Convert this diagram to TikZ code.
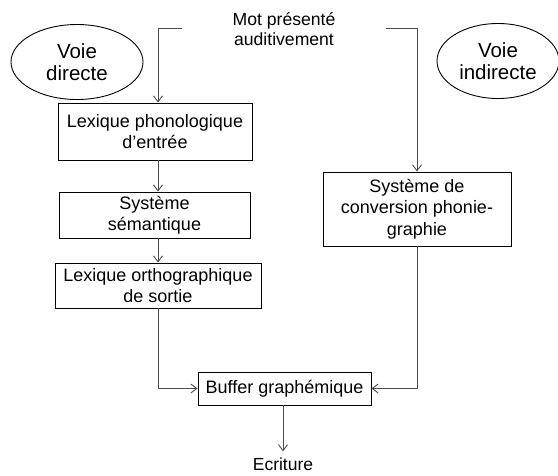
\documentclass[tikz,border=0pt]{standalone}
\usepackage{fontspec}
\setmainfont{Liberation Sans}
\usetikzlibrary{arrows.meta,shapes.geometric}
\begin{document}
\begin{tikzpicture}[x=1pt,y=-1pt,
  stage/.style={draw=black,line width=0.9pt,align=center,inner sep=0pt,
    font=\fontsize{18}{21.5}\selectfont},
  route/.style={draw=black,ellipse,line width=0.9pt,align=center,inner sep=0pt,
    font=\fontsize{20.5}{22}\selectfont},
  plain/.style={align=center,inner sep=0pt,font=\fontsize{17.6}{20}\selectfont},
  link/.style={draw=black!70,line width=0.9pt,-{Straight Barb[length=6pt,width=9pt]}},
  wire/.style={draw=black!70,line width=0.9pt}]
\useasboundingbox (0,0) rectangle (558,475);

% routes
\node[route,minimum width=132pt,minimum height=75pt] (direct) at (77,62) {Voie\\directe};
\node[route,minimum width=122pt,minimum height=75pt] (indirect) at (498,61) {Voie\\indirecte};

% input word
\node[plain] (mot) at (284,29) {Mot présenté\\auditivement};
\coordinate (inL) at (182,28);
\coordinate (inR) at (386,28);

% processing stages
\node[stage,minimum width=194pt,minimum height=57pt] (lexph) at (155,131.5) {Lexique phonologique\\d’entrée};
\node[stage,minimum width=191pt,minimum height=46pt] (sem) at (154.5,215) {Système\\sémantique};
\node[stage,minimum width=206pt,minimum height=45pt] (orth) at (158,285.5) {Lexique orthographique\\de sortie};
\node[stage,minimum width=188pt,minimum height=74pt] (conv) at (417,209) {Système de\\conversion phonie-\\graphie};
\node[stage,minimum width=173pt,minimum height=33pt] (buf) at (284.5,388.5) {Buffer graphémique};
\node[plain,font=\fontsize{17.5}{20}\selectfont,inner ysep=6pt] (ecr) at (283,464) {Ecriture};

% connections
\draw[link] (inL) -| (lexph.north -| 158,0);
\draw[link] (inR) -| (conv.north);
\draw[link] (lexph.south -| 158,0) -- (sem.north -| 158,0);
\draw[link] (sem.south -| 158,0) -- (orth.north -| 158,0);
\draw[link] (orth.south) |- (buf.west);
\draw[link] (conv.south) |- (buf.east);
\draw[link] (buf.south -| ecr.north) -- (ecr.north);
\end{tikzpicture}
\end{document}
